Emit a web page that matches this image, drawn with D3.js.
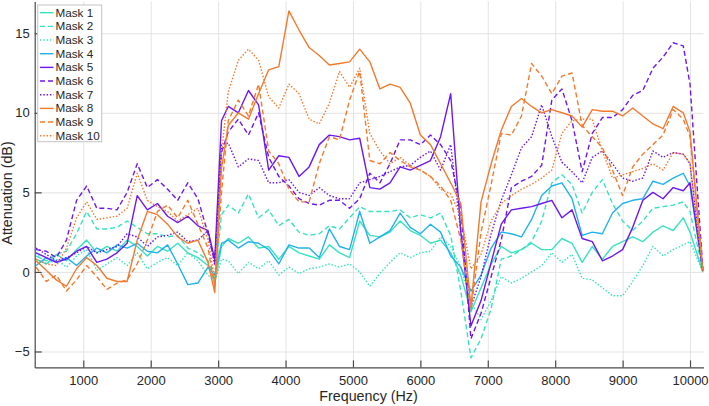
<!DOCTYPE html>
<html>
<head>
<meta charset="utf-8">
<script src="https://cdn.jsdelivr.net/npm/d3@7"></script>
<style>
  body { margin: 0; background: #fff; }
  text { font-family: "Liberation Sans", Arial, Helvetica, sans-serif; fill: #262626; }
</style>
</head>
<body>
<svg id="chart" width="709" height="406"></svg>
<script>
// frequency grid (Hz)
const freq = [300, 450, 600, 750, 900, 1050, 1200, 1350, 1500, 1650, 1800, 1950, 2100, 2250, 2400, 2550, 2700, 2850, 2950, 3050,
  3150, 3300, 3450, 3600, 3750, 3900, 4050, 4200, 4350, 4500, 4650, 4800, 4950, 5100, 5250, 5400, 5550, 5700, 5850, 6000, 6150, 6300, 6450, 6600,
  6750, 6900, 7050, 7200, 7350, 7500, 7650, 7800, 7950, 8100, 8250, 8400, 8550, 8700, 8850, 9000, 9150, 9300, 9450, 9600, 9750, 9900, 10000, 10190];

// attenuation (dB) per mask
const mask1 = [0.8, 0.5, 1.1, 0.7, 1.4, 2.0, 1.2, 1.6, 1.3, 2.0, 1.6, 1.0, 1.6, 1.3, 1.8, 1.2, 0.9, 0.4, -0.7, 1.6,
  2.1, 1.8, 2.2, 1.5, 1.6, 0.8, 1.6, 1.2, 1.0, 0.8, 1.7, 1.2, 0.9, 3.2, 2.3, 2.2, 2.5, 3.2, 2.6, 2.3, 1.8, 2.0, 1.2, -0.2,
  -2.5, -1.0, 0.5, 1.6, 1.2, 1.4, 1.8, 1.4, 1.4, 2.1, 1.8, 0.6, 1.6, 0.8, 1.6, 1.9, 2.2, 1.9, 2.5, 2.9, 2.6, 3.4, 2.5, 0.0];
const mask2 = [1.0, 0.7, 1.1, 1.3, 2.4, 3.8, 2.7, 2.7, 2.8, 3.2, 2.8, 2.4, 2.4, 2.2, 2.3, 1.5, 1.2, 0.7, -0.5, 3.6,
  4.2, 3.7, 4.9, 3.4, 3.9, 2.9, 3.3, 2.5, 2.3, 2.4, 2.9, 2.7, 3.4, 4.1, 3.8, 3.8, 3.8, 3.9, 3.4, 3.6, 3.4, 3.7, 2.3, -1.2,
  -5.4, -4.2, -2.3, 0.8, 1.0, 1.4, 1.9, 3.2, 5.6, 6.1, 5.5, 3.7, 5.0, 5.8, 4.3, 3.2, 2.6, 3.2, 4.0, 4.1, 4.2, 4.4, 3.8, 0.1];
const mask3 = [1.2, 0.5, 0.8, 0.3, 1.0, 1.4, 0.1, 0.5, 0.9, 0.4, 1.2, 0.2, 0.6, 0.9, 0.4, 1.2, 0.7, -0.2, -0.6, 0.8,
  0.7, -0.1, 0.6, 0.2, 0.7, -0.2, 0.3, -0.1, 0.2, 0.3, 0.5, 0.3, 0.5, 0.0, -0.9, -0.1, 0.6, 1.2, 0.9, 1.2, 1.3, 2.2, 1.6, 0.3,
  -1.9, -3.0, -1.8, -0.3, -0.7, -0.4, 0.0, 0.4, 1.2, 0.6, 1.1, -0.4, -0.5, -1.0, -1.5, -1.5, -0.6, 0.4, 1.6, 1.0, 1.4, 1.7, 1.9, 0.0];
const mask4 = [0.4, 0.9, 0.6, 0.9, 0.4, 1.0, 1.5, 1.2, 1.7, 1.5, 1.8, 1.3, 1.2, 1.7, 0.5, -0.8, -0.7, 0.3, -0.2, 1.8,
  2.0, 1.5, 1.9, 1.8, 1.4, 0.5, 1.7, 1.5, 1.5, 0.9, 2.7, 1.6, 1.4, 3.8, 1.8, 2.2, 2.6, 3.7, 2.8, 2.4, 3.0, 2.5, 1.0, 0.3,
  -1.2, -0.2, 1.5, 2.5, 2.4, 2.2, 3.3, 4.8, 5.4, 5.6, 4.6, 2.3, 2.5, 2.4, 3.7, 4.3, 4.5, 4.6, 5.7, 5.5, 5.9, 6.2, 5.4, 0.1];
const mask5 = [1.2, 0.9, 0.6, 0.8, 1.3, 1.6, 0.6, 0.8, 1.2, 1.8, 4.8, 3.9, 4.3, 3.5, 3.1, 3.5, 2.9, 2.6, 0.8, 9.5,
  10.4, 10.0, 11.4, 10.5, 6.4, 7.3, 7.2, 6.0, 6.6, 8.0, 8.6, 8.5, 8.3, 8.4, 5.3, 5.2, 5.6, 6.6, 6.4, 6.7, 7.0, 8.5, 11.2, 2.5,
  -3.4, -1.8, 0.6, 3.0, 3.9, 4.0, 4.1, 4.3, 4.5, 3.4, 3.9, 2.1, 1.9, 0.7, 1.0, 1.4, 2.8, 4.5, 5.0, 4.6, 5.3, 5.1, 5.6, 0.1];
const mask6 = [1.4, 1.3, 0.9, 2.0, 4.5, 5.4, 4.0, 4.0, 3.9, 5.0, 6.8, 5.3, 5.8, 5.2, 4.5, 5.6, 4.6, 2.4, 0.6, 7.5,
  8.8, 9.6, 8.6, 10.0, 7.2, 6.0, 5.4, 4.6, 4.3, 4.2, 4.5, 4.5, 4.0, 4.6, 6.2, 5.6, 6.8, 8.3, 8.3, 8.0, 8.6, 8.0, 7.0, 4.0,
  -4.2, -2.6, -0.3, 2.0, 5.3, 5.7, 6.0, 6.7, 10.8, 11.5, 9.5, 6.3, 8.7, 9.7, 9.7, 10.2, 11.1, 11.4, 12.8, 13.5, 14.4, 14.2, 11.8, 0.2];
const mask7 = [1.5, 1.1, 0.7, 0.9, 1.2, 1.6, 1.2, 1.4, 1.6, 2.4, 2.2, 1.6, 2.2, 2.3, 2.5, 1.9, 2.0, 2.6, 0.4, 8.0,
  8.1, 6.6, 7.1, 7.0, 5.6, 5.6, 5.8, 5.0, 4.8, 5.3, 4.8, 4.6, 4.6, 5.6, 5.8, 6.0, 6.3, 6.6, 6.7, 7.2, 7.6, 6.4, 8.0, 2.5,
  -2.2, -0.3, 2.4, 4.5, 6.1, 7.8, 8.5, 10.5, 8.5, 6.9, 6.3, 5.6, 7.2, 7.6, 6.8, 5.9, 5.7, 5.9, 7.6, 7.2, 7.5, 7.4, 6.8, 0.0];
const mask8 = [0.7, 0.1, -0.5, -0.9, 0.2, 0.9, 0.4, -0.4, -0.6, -0.6, 2.0, 3.8, 3.6, 3.0, 2.2, 1.8, 2.0, 0.6, -1.3, 6.5,
  9.2, 10.0, 9.6, 11.2, 12.7, 12.9, 16.4, 15.2, 14.1, 13.6, 13.0, 13.1, 13.2, 14.0, 13.2, 11.5, 11.8, 11.6, 10.6, 8.6, 8.0, 6.8, 5.6, 4.3,
  -2.2, 4.4, 6.8, 8.9, 10.4, 10.9, 10.4, 10.0, 10.2, 10.0, 9.8, 9.1, 10.2, 10.1, 10.1, 9.8, 10.3, 9.8, 9.3, 9.0, 10.4, 10.0, 8.8, 0.1];
const mask9 = [0.3, -0.6, -0.2, -1.2, -0.5, 0.4, -0.3, -1.1, -0.7, -0.5, 0.5, 2.0, 3.8, 4.2, 3.4, 4.5, 3.0, 1.5, -0.9, 5.0,
  9.5, 10.8, 9.8, 11.8, 7.6, 6.8, 5.2, 4.4, 4.4, 6.8, 8.5, 8.3, 10.8, 12.6, 7.0, 6.8, 7.5, 7.0, 6.6, 6.4, 6.0, 5.4, 4.5, 2.0,
  -2.4, 2.5, 5.5, 8.7, 8.6, 9.8, 13.1, 12.3, 11.2, 12.3, 12.5, 9.2, 8.5, 7.8, 6.4, 4.8, 6.6, 7.4, 8.0, 8.6, 10.2, 9.6, 8.5, 0.1];
const mask10 = [0.8, 0.5, 0.4, 1.5, 3.4, 4.4, 3.3, 3.4, 3.5, 4.0, 6.2, 4.5, 4.1, 3.8, 3.2, 3.6, 4.0, 2.0, -0.5, 7.5,
  11.3, 13.3, 14.0, 13.3, 11.0, 10.3, 11.8, 11.2, 9.6, 9.3, 10.6, 12.6, 11.6, 12.8, 8.7, 7.6, 6.8, 7.2, 6.7, 6.4, 6.0, 5.2, 4.9, 3.5,
  0.2, 1.1, 3.2, 4.3, 4.8, 5.2, 5.5, 5.9, 6.4, 8.7, 9.5, 9.6, 9.6, 7.6, 5.9, 6.1, 6.3, 6.5, 6.8, 6.4, 7.5, 7.4, 6.8, 0.0];

const names = ['Mask 1', 'Mask 2', 'Mask 3', 'Mask 4', 'Mask 5', 'Mask 6', 'Mask 7', 'Mask 8', 'Mask 9', 'Mask 10'];
const xTicks = [1000, 2000, 3000, 4000, 5000, 6000, 7000, 8000, 9000, 10000];
const yTicks = [-5, 0, 5, 10, 15];

const cyan = '#36e2c0', blue = '#22b2ee', purple = '#6d18f0', orange = '#f27a2e';
const solid = null, dashed = '5,3', dotted = '1.5,1.8';

const series = [
  {name: names[0], values: mask1, color: cyan, dash: solid},
  {name: names[1], values: mask2, color: cyan, dash: dashed},
  {name: names[2], values: mask3, color: cyan, dash: dotted},
  {name: names[3], values: mask4, color: blue, dash: solid},
  {name: names[4], values: mask5, color: purple, dash: solid},
  {name: names[5], values: mask6, color: purple, dash: dashed},
  {name: names[6], values: mask7, color: purple, dash: dotted},
  {name: names[7], values: mask8, color: orange, dash: solid},
  {name: names[8], values: mask9, color: orange, dash: dashed},
  {name: names[9], values: mask10, color: orange, dash: dotted}
];

const svg = d3.select('#chart');
const plotLeft = 34.7, plotRight = 703.5, plotTop = 1.4, plotBottom = 367.4;

const x = d3.scaleLinear().domain([279, 10200]).range([plotLeft, plotRight]);
const y = d3.scaleLinear().domain([-6, 17]).range([plotBottom, plotTop]);

// grid lines
svg.append('g')
  .attr('transform', 'translate(0,' + plotBottom + ')')
  .call(d3.axisBottom(x).tickValues(xTicks).tickSize(-(plotBottom - plotTop)).tickFormat(''))
  .call(g => g.select('.domain').remove())
  .call(g => g.selectAll('line').attr('stroke', '#e3e3e3').attr('stroke-width', 1));
svg.append('g')
  .attr('transform', 'translate(' + plotLeft + ',0)')
  .call(d3.axisLeft(y).tickValues(yTicks).tickSize(-(plotRight - plotLeft)).tickFormat(''))
  .call(g => g.select('.domain').remove())
  .call(g => g.selectAll('line').attr('stroke', '#e3e3e3').attr('stroke-width', 1));

// lines
const line = d3.line()
  .x((d, i) => x(freq[i]))
  .y(d => y(d));

svg.append('g')
  .selectAll('path')
  .data(series)
  .enter()
  .append('path')
  .attr('d', s => line(s.values))
  .attr('fill', 'none')
  .attr('stroke', s => s.color)
  .attr('stroke-width', 1.4)
  .attr('stroke-linejoin', 'round')
  .attr('stroke-dasharray', s => s.dash);

// axes (ticks point inward like matlab)
const xAxis = svg.append('g')
  .attr('transform', 'translate(0,' + plotBottom + ')')
  .call(d3.axisBottom(x).tickValues(xTicks).tickSizeInner(-7).tickSizeOuter(0).tickPadding(8).tickFormat(d3.format('d')));
const yAxis = svg.append('g')
  .attr('transform', 'translate(' + plotLeft + ',0)')
  .call(d3.axisLeft(y).tickValues(yTicks).tickSizeInner(-7).tickSizeOuter(0).tickPadding(5));

[xAxis, yAxis].forEach(g => {
  g.select('.domain').attr('stroke', '#4a4a4a').attr('stroke-width', 1.2);
  g.selectAll('.tick line').attr('stroke', '#4a4a4a').attr('stroke-width', 1.2);
  g.selectAll('.tick text').attr('font-size', 13).attr('fill', '#262626')
    .attr('font-family', '"Liberation Sans", Arial, sans-serif');
});

svg.append('text')
  .attr('x', 368.5)
  .attr('y', 401)
  .attr('text-anchor', 'middle')
  .attr('font-size', 14.3)
  .text('Frequency (Hz)');

svg.append('text')
  .attr('transform', 'translate(12,193) rotate(-90)')
  .attr('text-anchor', 'middle')
  .attr('font-size', 14.3)
  .text('Attenuation (dB)');

// legend
const legend = svg.append('g');
legend.append('rect')
  .attr('x', 37.7).attr('y', 5)
  .attr('width', 64).attr('height', 136.7)
  .attr('fill', '#fff')
  .attr('stroke', '#c4c4c4')
  .attr('stroke-width', 1);

const item = legend.selectAll('g.item')
  .data(series)
  .enter()
  .append('g')
  .attr('class', 'item')
  .attr('transform', (s, i) => 'translate(0,' + (12.7 + i * 13.67) + ')');

item.append('line')
  .attr('x1', 40).attr('x2', 53.5)
  .attr('y1', 0).attr('y2', 0)
  .attr('stroke', s => s.color)
  .attr('stroke-width', 1.4)
  .attr('stroke-dasharray', s => s.dash);

item.append('text')
  .attr('x', 55.5)
  .attr('y', 0)
  .attr('dy', '0.35em')
  .attr('font-size', 11.7)
  .text(s => s.name);
</script>
</body>
</html>
